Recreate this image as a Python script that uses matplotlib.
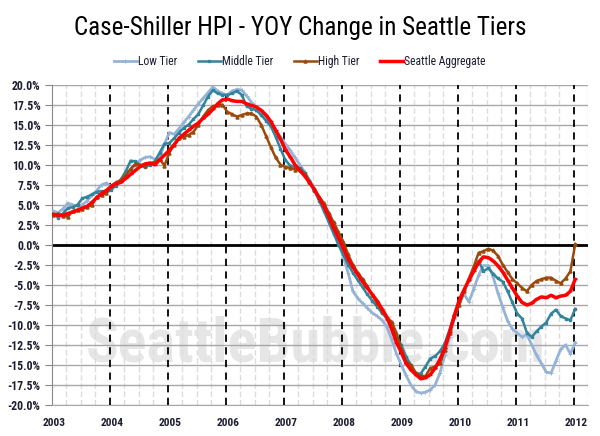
import numpy as np
import matplotlib
matplotlib.use('Agg')
import matplotlib.pyplot as plt
import matplotlib.transforms as mtransforms
from matplotlib import font_manager as fm

# monthly YOY change (%), Jan 2003 .. Jan 2012
low_tier = [
    4.2, 4.0, 4.5, 5.2, 5.0, 4.8, 5.0, 5.5, 6.2, 6.8, 7.5, 7.7,
    7.3, 7.5, 8.0, 8.6, 9.3, 10.0, 10.6, 10.9, 11.0, 10.7, 10.8, 12.6,
    14.0, 13.8, 14.5, 15.3, 16.0, 16.8, 17.6, 18.3, 19.0, 19.7, 19.2, 18.9,
    18.7, 19.2, 19.4, 19.3, 18.6, 17.8, 17.2, 16.6, 15.9, 15.2, 14.3, 13.5,
    12.6, 11.8, 10.9, 10.0, 9.1, 8.1, 7.1, 5.9, 4.6, 3.3, 1.9, 0.3,
    -1.5, -3.5, -5.8, -6.7, -7.3, -7.9, -8.5, -8.9, -9.4, -10.2, -11.8, -13.6,
    -15.0, -16.3, -17.5, -18.3, -18.5, -18.4, -18.1, -17.5, -16.0, -13.8, -11.5, -9.2,
    -7.2, -6.2, -7.1, -5.5, -3.8, -2.6, -2.6, -4.0, -6.0, -7.8, -9.5, -10.5,
    -11.0, -11.5, -11.2, -12.5, -13.8, -14.8, -15.9, -16.0, -14.5, -13.0, -12.5, -13.6,
    -12.2,
]
middle_tier = [
    3.8, 3.4, 3.9, 4.6, 4.7, 5.0, 5.8, 6.0, 6.3, 6.6, 6.7, 6.5,
    6.9, 7.4, 8.2, 9.2, 10.5, 10.4, 9.9, 9.7, 10.0, 10.4, 11.5, 12.6,
    12.7, 13.3, 14.0, 14.6, 15.0, 15.7, 16.3, 17.4, 18.5, 19.3, 18.9, 18.7,
    18.7, 18.9, 19.2, 18.7, 17.3, 17.0, 16.8, 16.2, 15.5, 14.8, 13.5, 12.0,
    10.6, 9.9, 9.7, 9.6, 9.0, 8.0, 6.8, 5.5, 4.2, 2.8, 1.4, 0.0,
    -1.2, -2.5, -3.5, -4.4, -5.3, -6.2, -7.0, -7.7, -8.5, -9.2, -10.2, -11.5,
    -12.5, -14.0, -15.0, -16.0, -16.1, -15.2, -14.2, -13.9, -13.3, -12.3, -10.6, -8.7,
    -7.1, -5.8, -4.4, -3.1, -2.0, -3.3, -2.9, -3.6, -4.2, -4.6, -5.8, -7.2,
    -8.6, -9.2, -11.0, -11.5, -10.8, -10.2, -9.7, -8.6, -8.1, -8.9, -9.2, -9.4,
    -8.0,
]
high_tier = [
    3.7, 3.9, 3.6, 3.5, 4.2, 4.4, 4.5, 4.7, 5.0, 6.0, 6.2, 6.5,
    7.4, 7.8, 8.1, 8.7, 9.5, 10.1, 10.0, 9.8, 10.2, 10.3, 10.7, 9.9,
    11.5, 12.5, 13.3, 13.5, 13.7, 14.1, 15.0, 16.0, 16.8, 17.3, 17.4, 17.5,
    16.6, 16.3, 16.0, 16.2, 16.4, 16.4, 16.0, 15.0, 13.6, 12.2, 10.9, 10.0,
    9.7, 9.6, 9.4, 9.3, 8.8, 7.8, 6.9, 6.0, 5.2, 4.0, 2.8, 1.6,
    0.4, -1.2, -2.5, -3.5, -4.3, -5.2, -6.3, -7.3, -8.2, -9.1, -9.6, -11.0,
    -13.0, -14.6, -15.0, -16.0, -16.4, -16.4, -15.4, -15.2, -14.8, -13.1, -11.0, -8.9,
    -7.5, -5.8, -4.2, -2.7, -1.0, -0.8, -0.5, -0.7, -1.4, -2.5, -3.4, -4.3,
    -4.8, -5.4, -5.8, -5.0, -4.5, -4.3, -4.1, -4.1, -4.5, -4.8, -4.2, -3.3,
    0.1,
]
aggregate = [
    3.8, 3.7, 3.7, 3.9, 4.1, 4.3, 4.6, 4.8, 5.3, 5.9, 6.4, 6.8,
    7.3, 7.6, 7.8, 8.3, 8.8, 9.3, 9.8, 10.1, 10.2, 10.0, 10.6, 11.2,
    11.8, 12.5, 13.3, 13.8, 14.3, 14.8, 15.2, 15.8, 16.3, 16.9, 17.6, 18.1,
    18.2, 18.0, 17.9, 17.9, 17.6, 17.4, 17.2, 16.8, 16.2, 15.4, 14.3, 13.2,
    11.9, 11.0, 10.0, 9.3, 8.6, 7.8, 6.9, 5.9, 4.8, 3.5, 2.1, 0.9,
    -0.4, -1.8, -2.8, -3.7, -4.6, -5.4, -6.2, -7.0, -8.0, -9.0, -10.5, -12.2,
    -13.4, -14.8, -15.6, -16.2, -16.7, -16.6, -16.2, -15.4, -14.3, -12.9, -10.9, -8.8,
    -6.9, -5.6, -4.4, -3.3, -2.2, -1.5, -1.6, -2.0, -2.6, -3.4, -4.4, -5.4,
    -6.4, -7.2, -7.5, -7.3, -6.8, -6.5, -6.6, -6.3, -6.6, -6.4, -6.3, -5.8,
    -4.3,
]
years = list(range(2003, 2013))
start_year = 2003

x = start_year + np.arange(len(aggregate)) / 12.0 + 0.03

# pick a narrow font if one is installed
fonts = fm.fontManager.ttflist
names = {f.name for f in fonts}
fam, stretch = 'DejaVu Sans', 'normal'
for cand in ['Roboto Condensed', 'Liberation Sans Narrow', 'Open Sans Condensed', 'Noto Sans Condensed']:
    if cand in names:
        fam = cand
        break
else:
    for base in ['Roboto', 'Open Sans', 'Noto Sans', 'DejaVu Sans', 'Liberation Sans']:
        if any(f.name == base and f.stretch in ('condensed', 'semi-condensed', 'extra-condensed')
               for f in fonts):
            fam, stretch = base, 'condensed'
            break
cond = [fam, 'DejaVu Sans']
label_color = '#1c1c30'

fig = plt.figure(figsize=(6, 4.36), dpi=100)
ax = fig.add_axes([0.086, 0.071, 0.894, 0.735])
renderer = fig.canvas.get_renderer()


def fit(txt, width_px):
    # scale the font so the text is about width_px wide
    w = txt.get_window_extent(renderer).width
    txt.set_fontsize(txt.get_fontsize() * width_px / w)


# watermark
wm = ax.text(2007.55, -12.4, 'SeattleBubble.com', fontsize=50, fontweight='bold',
             family=cond, stretch=stretch, color='#e6e6e6', ha='center', va='center', zorder=0)
fit(wm, 460)

ax.set_xlim(2003, 2012.24)
ax.set_ylim(-20, 20)
ax.set_yticks(np.arange(-20, 20.1, 2.5))
ax.set_yticklabels(['%.1f%%' % v for v in np.arange(-20, 20.1, 2.5)])
ax.set_xticks(years)
ax.set_xticklabels([str(y) for y in years])
ax.set_xticks(np.arange(2003.25, 2012.3, 0.25), minor=True)

ax.yaxis.grid(True, color='#a8a8a8', lw=1, zorder=1)
ax.xaxis.grid(True, which='minor', color='#dcdcdc', lw=1, ls=(0, (4, 2)), zorder=1)
for yr in years[1:]:
    ax.axvline(yr, color='black', lw=1.3, ls=(0, (4, 3)), zorder=2)
ax.axhline(0, color='black', lw=2, zorder=2)

ax.plot(x, low_tier, color='#95b3d7', lw=2, marker='+', ms=2.5, mew=0.7, label='Low Tier', zorder=3)
ax.plot(x, middle_tier, color='#31849b', lw=1.8, marker='s', ms=1.8, label='Middle Tier', zorder=4)
ax.plot(x, high_tier, color='#9a4a0b', lw=1.8, marker='^', ms=2.2, label='High Tier', zorder=5)
ax.plot(x, aggregate, color='#ff0000', lw=2.5, marker='_', ms=3, label='Seattle Aggregate', zorder=6)

for s in ['top', 'right']:
    ax.spines[s].set_visible(False)
ax.spines['left'].set_color('#888888')
ax.spines['bottom'].set_color('#a8a8a8')
ax.tick_params(axis='y', which='major', length=5, color='#888888', pad=3, labelcolor=label_color)
ax.tick_params(axis='x', which='both', length=0, pad=9, labelcolor=label_color)

ylabs = ax.get_yticklabels()
xlabs = ax.get_xticklabels()
for lab in xlabs + ylabs:
    lab.set_family(cond)
    lab.set_stretch(stretch)
    lab.set_fontweight('bold')
fit(ylabs[0], 33)
for lab in ylabs[1:]:
    lab.set_fontsize(ylabs[0].get_fontsize())
fit(xlabs[0], 23)
for lab in xlabs[1:]:
    lab.set_fontsize(xlabs[0].get_fontsize())
off = mtransforms.ScaledTranslation(2.5 / 100, 0, fig.dpi_scale_trans)
for lab in xlabs:
    lab.set_transform(lab.get_transform() + off)

title = fig.text(0.5, 0.935, 'Case-Shiller HPI - YOY Change in Seattle Tiers', ha='center',
                 va='center', fontsize=18, family=cond, stretch=stretch, color='black')
fit(title, 454)

leg = fig.legend(loc='center', bbox_to_anchor=(0.5, 0.858), ncol=4, frameon=False,
                 handlelength=1.7, handletextpad=0.1, columnspacing=1.6,
                 prop={'family': cond, 'stretch': stretch, 'size': 9.5})
lt = leg.get_texts()
fit(lt[3], 82)
for t in lt:
    t.set_fontsize(lt[3].get_fontsize())
    t.set_color(label_color)

fig.savefig('out.png', dpi=100, facecolor='white')
